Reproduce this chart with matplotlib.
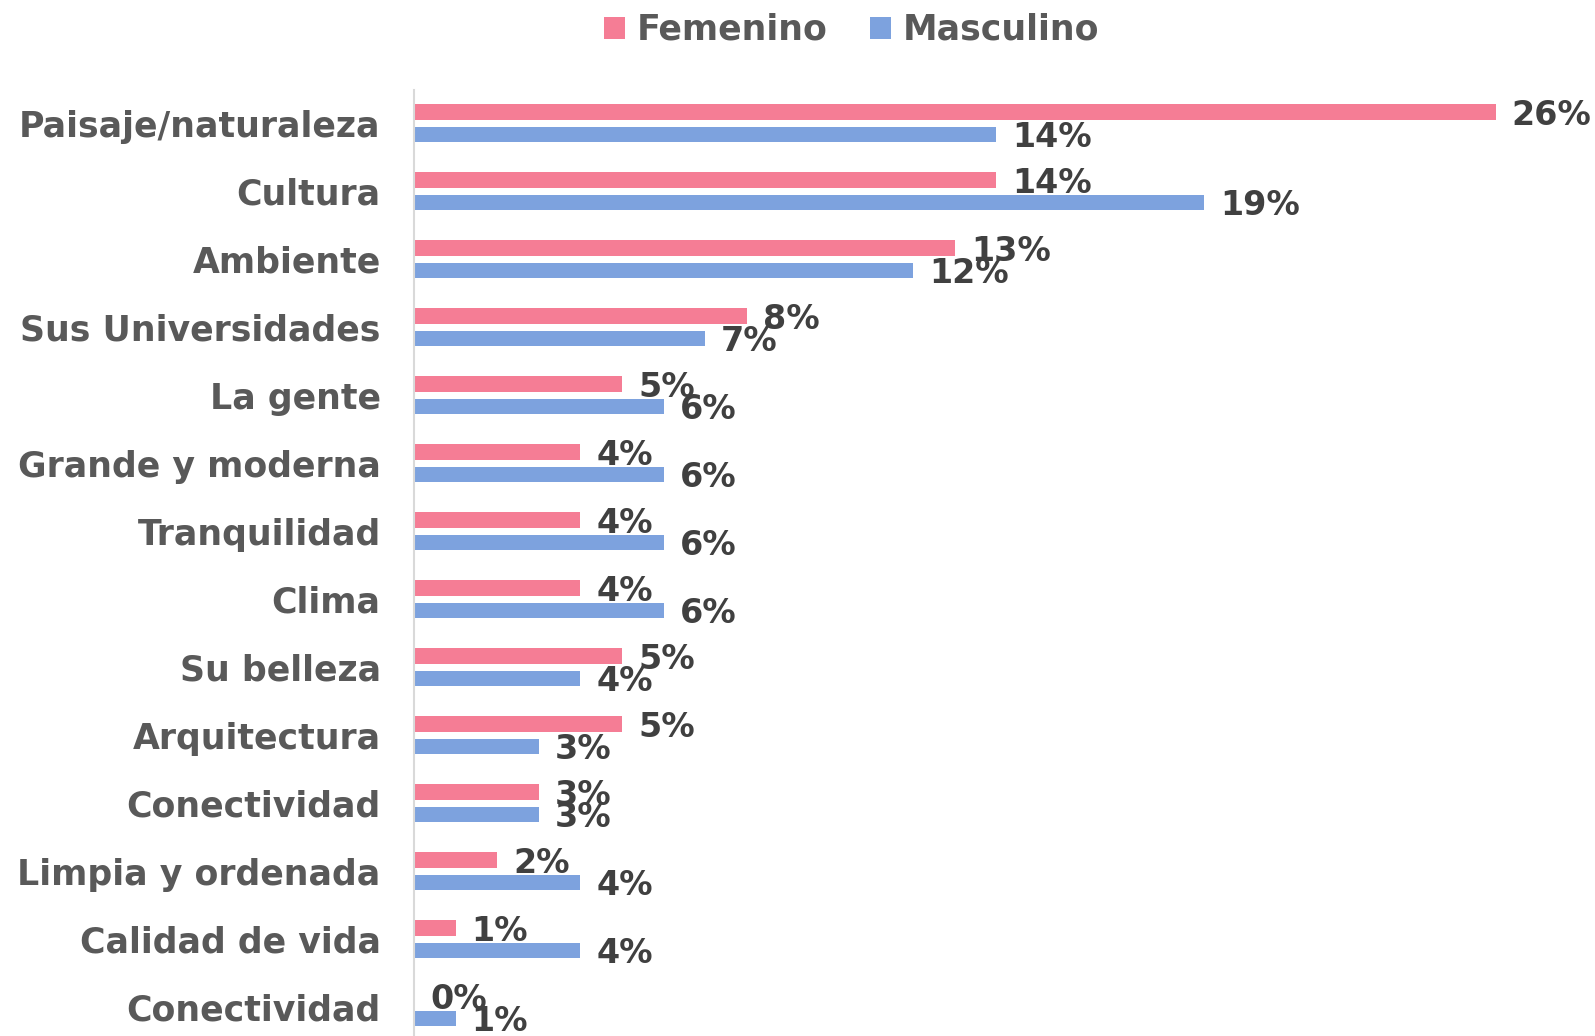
import matplotlib.pyplot as plt
import numpy as np

categorias = ['Paisaje/naturaleza', 'Cultura', 'Ambiente', 'Sus Universidades', 'La gente',
              'Grande y moderna', 'Tranquilidad', 'Clima', 'Su belleza', 'Arquitectura',
              'Conectividad', 'Limpia y ordenada', 'Calidad de vida', 'Conectividad']
femenino = [26, 14, 13, 8, 5, 4, 4, 4, 5, 5, 3, 2, 1, 0]
masculino = [14, 19, 12, 7, 6, 6, 6, 6, 4, 3, 3, 4, 4, 1]

col_fem = '#F57D95'
col_mas = '#7DA2DE'
fuente = 'DejaVu Sans'

W, H = 1595, 1036
fig = plt.figure(figsize=(W / 100, H / 100), dpi=100)
ax = fig.add_axes([414 / W, 0, (1529 - 414) / W, 1 - 90 / H])

y = np.arange(len(categorias))
off = 0.165
hb = 0.23
b1 = ax.barh(y - off, femenino, height=hb, color=col_fem, label='Femenino')
b2 = ax.barh(y + off, masculino, height=hb, color=col_mas, label='Masculino')

ax.set_xlim(0, 26.8)
ax.set_ylim(13.42, -0.49)

# etiquetas de datos
for barras in (b1, b2):
    for r in barras:
        v = r.get_width()
        ax.annotate(f'{v:.0f}%', (v, r.get_y() + r.get_height() / 2),
                    xytext=(16, -3), textcoords='offset pixels',
                    ha='left', va='center', fontsize=24, fontweight='bold',
                    color='#404040', family=fuente, annotation_clip=False)

ax.set_yticks(y)
ax.set_yticklabels(categorias, fontsize=25, fontweight='bold', color='#595959', family=fuente)
ax.tick_params(axis='y', length=0, pad=24)
ax.set_xticks([])
for s in ['top', 'right', 'bottom']:
    ax.spines[s].set_visible(False)
ax.spines['left'].set_color('#D9D9D9')
ax.spines['left'].set_linewidth(1.5)

leg = fig.legend(handles=[b1, b2], loc='center', bbox_to_anchor=(0.534, 1 - 30 / H),
                 ncol=2, frameon=False, handlelength=0.6, handleheight=0.6,
                 handletextpad=0.35, columnspacing=1.2,
                 prop={'size': 25, 'weight': 'bold', 'family': fuente})
for t in leg.get_texts():
    t.set_color('#595959')

fig.savefig('out.png', dpi=100)
